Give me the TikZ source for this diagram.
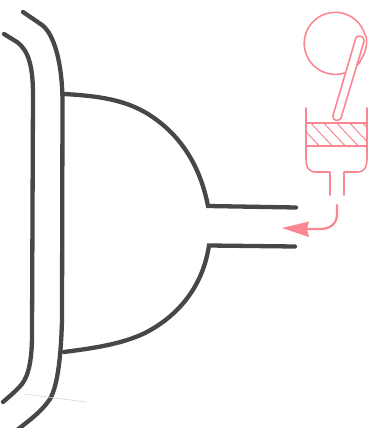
\documentclass[tikz,border=0pt]{standalone}
\definecolor{pk}{RGB}{250,135,145}
\begin{document}
\begin{tikzpicture}[x=1pt,y=-1pt,
  wall/.style={draw=black!72,line width=4.3pt,line cap=round,line join=miter},
  pink/.style={draw=pk,line width=1.6pt,line cap=round,line join=round},
  hatchline/.style={draw=pk,line width=1pt}]
\useasboundingbox (0,0) rectangle (386,428);
\clip (0,0) rectangle (386,428);
% walls
\draw[wall] (23,12) -- (42,25) .. controls (54,34) and (62,62) .. (62.5,100) -- (62,320) .. controls (61,355) and (58,385) .. (50,399) .. controls (42,411) and (30,420) .. (17,430);
\draw[wall] (4,34) -- (17,42) .. controls (28,50) and (33,65) .. (33,95) -- (32,335) .. controls (32,358) and (29,375) .. (22,384) .. controls (17,390) and (10,396) .. (3,402);
% chamber
\draw[wall] (64,94) .. controls (100,96) and (125,100) .. (148,114) .. controls (180,134) and (200,165) .. (208,206) -- (296,207.5);
\draw[wall] (295,246.5) -- (209,245.5) .. controls (203,285) and (180,315) .. (145,333) .. controls (122,344) and (95,348) .. (64,352);
% faint mark
\draw[black!18,line width=0.5pt] (24,394) -- (86,402);
% engine
\draw[pink] (360,62) arc[start angle=37,end angle=345,radius=31];
\draw[pink] (366,36) .. controls (368,45) and (365,55) .. (358,64);
\begin{scope}
\clip (307,123) rectangle (366,146);
\foreach \x in {280,293,...,380}
  \draw[hatchline] (\x,118) -- (\x+30,150);
\end{scope}
\draw[pink] (306,108) -- (306,158) .. controls (306,168) and (309,172) .. (316,172) -- (330,172) -- (330,195);
\draw[pink] (367,108) -- (367,158) .. controls (367,168) and (364,172) .. (357,172) -- (344,172) -- (344,195);
\draw[pink] (306,123) -- (367,123);
\draw[pink] (306,146) -- (367,146);
\draw[pink,fill=white] (356,37.5) .. controls (358,34.5) and (365,36) .. (364,41.5) -- (341,118) .. controls (339,122) and (332,121) .. (333,115.5) -- cycle;
\draw[pink,line width=2.2pt] (337,205) -- (337,214) .. controls (337,224) and (330,229) .. (320,229) -- (305,229);
\fill[pk] (282,228) -- (309,221.5) -- (307,229) -- (309,237) -- cycle;
\end{tikzpicture}
\end{document}
